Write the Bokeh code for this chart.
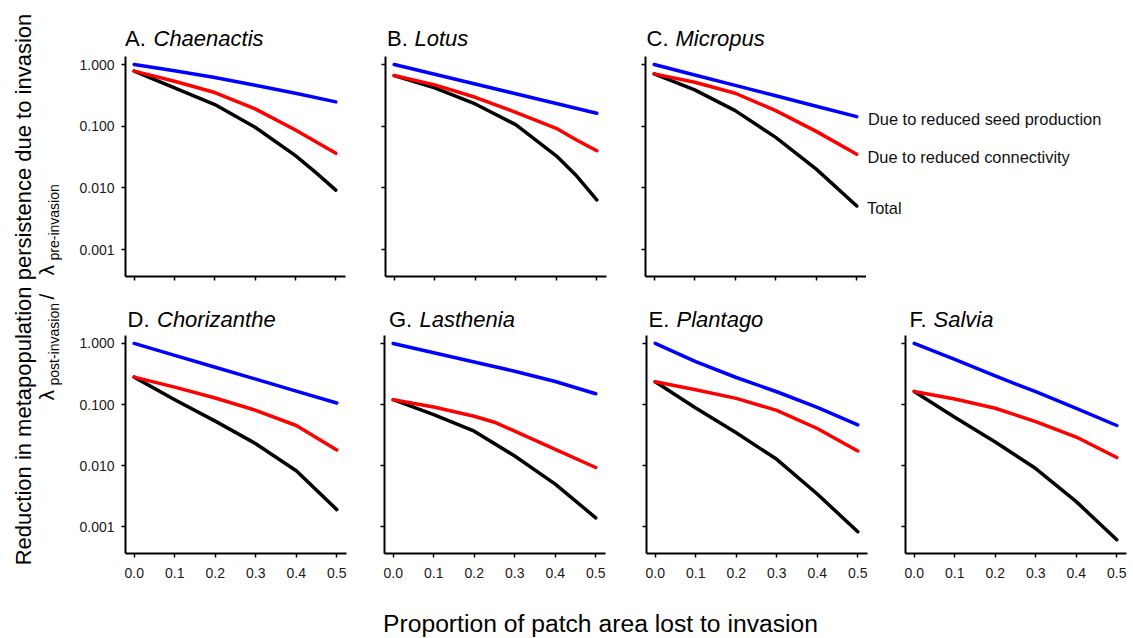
import math
from bokeh.plotting import figure
from bokeh.layouts import row, column
from bokeh.models import Range1d, FixedTicker, PrintfTickFormatter
from bokeh.embed import file_html
from bokeh.resources import INLINE
from bokeh.core.properties import value

FONT = "Liberation Sans"

# ---------------- data ----------------
x_steps = [0.0, 0.1, 0.2, 0.3, 0.4, 0.5]

# A. Chaenactis
a_seed = [1.000, 0.789, 0.615, 0.461, 0.342, 0.248]
a_conn = [0.780, 0.536, 0.351, 0.191, 0.0869, 0.0363]
a_total_x = [0.0, 0.1, 0.2, 0.3, 0.4, 0.45, 0.5]
a_total = [0.780, 0.418, 0.224, 0.0959, 0.0333, 0.0178, 0.0092]

# B. Lotus
b_seed = [1.000, 0.695, 0.483, 0.335, 0.233, 0.162]
b_conn_x = [0.0, 0.1, 0.2, 0.3, 0.4, 0.45, 0.5]
b_conn = [0.662, 0.467, 0.294, 0.168, 0.0923, 0.0596, 0.0400]
b_total_x = [0.0, 0.1, 0.2, 0.3, 0.4, 0.45, 0.5]
b_total = [0.662, 0.418, 0.229, 0.106, 0.0331, 0.0157, 0.00638]

# C. Micropus
c_seed = [1.000, 0.677, 0.459, 0.311, 0.210, 0.143]
c_conn = [0.705, 0.516, 0.342, 0.179, 0.0824, 0.0352]
c_total = [0.705, 0.387, 0.179, 0.0658, 0.0201, 0.00509]

# D. Chorizanthe
d_seed = [1.000, 0.638, 0.407, 0.260, 0.166, 0.106]
d_conn = [0.281, 0.193, 0.128, 0.0805, 0.0454, 0.0181]
d_total = [0.281, 0.120, 0.0535, 0.0229, 0.00824, 0.00191]

# G. Lasthenia
g_seed = [1.000, 0.705, 0.498, 0.351, 0.238, 0.150]
g_conn_x = [0.0, 0.1, 0.2, 0.25, 0.3, 0.4, 0.5]
g_conn = [0.120, 0.0914, 0.0644, 0.0514, 0.0367, 0.0185, 0.00933]
g_total = [0.120, 0.0686, 0.0367, 0.0144, 0.00500, 0.00140]

# E. Plantago
e_seed = [1.000, 0.504, 0.277, 0.162, 0.0902, 0.0466]
e_conn = [0.236, 0.175, 0.126, 0.0805, 0.0406, 0.0174]
e_total = [0.236, 0.0879, 0.0345, 0.0127, 0.00344, 0.00083]

# F. Salvia
f_seed = [1.000, 0.550, 0.294, 0.162, 0.0869, 0.0454]
f_conn = [0.164, 0.123, 0.0869, 0.0527, 0.0294, 0.0136]
f_total = [0.164, 0.0621, 0.0244, 0.00897, 0.00258, 0.000615]

y_ticks = [0.001, 0.01, 0.1, 1.0]
x_ticks = [0.0, 0.1, 0.2, 0.3, 0.4, 0.5]
legend_labels = ["Due to reduced seed production", "Due to reduced connectivity", "Total"]
top_letters = ["A.", "B.", "C."]
top_names = ["Chaenactis", "Lotus", "Micropus"]
bottom_letters = ["D.", "G.", "E.", "F."]
bottom_names = ["Chorizanthe", "Lasthenia", "Plantago", "Salvia"]
y_title = "Reduction in metapopulation persistence due to invasion"
x_title = "Proportion of patch area lost to invasion"

# ---------------- layout constants (page pixels) ----------------
X0, X1 = -0.0215, 0.524
Y0, Y1 = 10 ** -3.437, 10 ** 0.1297
FRAME_W, FRAME_H = 221, 220
LEFT_W = 76
TOTAL_W = 1133
H = 638

top_specs = [
    dict(seed=(x_steps, a_seed), conn=(x_steps, a_conn), total=(a_total_x, a_total), L=48, R=20, ylab=True),
    dict(seed=(x_steps, b_seed), conn=(b_conn_x, b_conn), total=(b_total_x, b_total), L=20, R=19, ylab=False),
    dict(seed=(x_steps, c_seed), conn=(x_steps, c_conn), total=(x_steps, c_total), L=20, R=0, ylab=False),
]
bottom_specs = [
    dict(seed=(x_steps, d_seed), conn=(x_steps, d_conn), total=(x_steps, d_total), L=49, R=18, ylab=True),
    dict(seed=(x_steps, g_seed), conn=(g_conn_x, g_conn), total=(x_steps, g_total), L=20, R=21, ylab=False),
    dict(seed=(x_steps, e_seed), conn=(x_steps, e_conn), total=(x_steps, e_total), L=20, R=18, ylab=False),
    dict(seed=(x_steps, f_seed), conn=(x_steps, f_conn), total=(x_steps, f_total), L=20, R=7, ylab=False, shift=2),
]


def make_panel(spec, top, bottom, xlab):
    shift = spec.get("shift", 0)
    p = figure(width=spec["L"] + FRAME_W + spec["R"], height=top + FRAME_H + bottom,
               x_range=Range1d(X0, X1), y_range=Range1d(Y0, Y1), y_axis_type="log",
               output_backend="svg", toolbar_location=None,
               min_border_left=spec["L"], min_border_right=spec["R"],
               min_border_top=top - shift, min_border_bottom=bottom + shift)
    p.grid.visible = False
    p.outline_line_color = None
    p.background_fill_color = "white"
    p.border_fill_color = "white"

    for ax in (p.xaxis[0], p.yaxis[0]):
        ax.axis_line_width = 2
        ax.axis_line_color = "black"
        ax.major_tick_line_width = 1.5
        ax.major_tick_line_color = "black"
        ax.major_tick_in = 0
        ax.major_tick_out = 4
        ax.minor_tick_line_color = None
        ax.major_label_text_font = FONT
        ax.major_label_text_color = "#1a1a1a"
        ax.major_label_text_font_size = "14px"
    p.xaxis.ticker = FixedTicker(ticks=x_ticks)
    p.xaxis.formatter = PrintfTickFormatter(format="%.1f")
    p.xaxis.major_label_standoff = 10
    if not xlab:
        p.xaxis.major_label_text_color = None
        p.xaxis.major_label_text_font_size = "1px"
        p.xaxis.major_label_standoff = 0
    p.yaxis.ticker = FixedTicker(ticks=y_ticks)
    p.yaxis.formatter = PrintfTickFormatter(format="%.3f")
    p.yaxis.major_label_standoff = 7
    if not spec["ylab"]:
        p.yaxis.major_label_text_color = None
        p.yaxis.major_label_text_font_size = "1px"
        p.yaxis.major_label_standoff = 0

    sx, sy = spec["seed"]
    cx, cy = spec["conn"]
    tx, ty = spec["total"]
    kw = dict(line_width=3.5, line_join="round", line_cap="round")
    p.line(tx, ty, line_color="black", **kw)
    p.line(cx, cy, line_color="#ff0000", **kw)
    p.line(sx, sy, line_color="#0000ff", **kw)
    return p


def blank(width, height, xr, yr):
    f = figure(width=width, height=height, x_range=Range1d(*xr), y_range=Range1d(*yr),
               x_axis_location=None, y_axis_location=None,
               output_backend="svg", toolbar_location=None,
               min_border_left=0, min_border_right=0, min_border_top=0, min_border_bottom=0)
    f.grid.visible = False
    f.outline_line_color = None
    f.background_fill_color = "white"
    f.border_fill_color = "white"
    return f


def text_kw(size, style="normal", align="left", color="black"):
    return dict(text_font=value(FONT), text_font_size=value(size), text_font_style=style,
                text_align=align, text_baseline="middle", text_color=color)


# ---- title strips (data x = page x; data y = strip bottom - page y) ----
top_strip_h = 52
top_strip = blank(TOTAL_W - LEFT_W, top_strip_h, (LEFT_W, TOTAL_W), (0, top_strip_h))
top_strip.text(x=[124.5, 386.5, 646], y=[top_strip_h - 37.5] * 3, text=top_letters, **text_kw("22px"))
top_strip.text(x=[153, 414, 675], y=[top_strip_h - 37.5] * 3, text=top_names, **text_kw("22px", "italic"))

bot_strip_top, bot_strip_h = 300, 32
bot_strip = blank(TOTAL_W - LEFT_W, bot_strip_h, (LEFT_W, TOTAL_W), (0, bot_strip_h))
bl = [bot_strip_top + bot_strip_h - 318.5] * 4
bot_strip.text(x=[127, 388.5, 648, 909], y=bl, text=bottom_letters, **text_kw("22px"))
bot_strip.text(x=[156.5, 419, 676, 933], y=bl, text=bottom_names, **text_kw("22px", "italic"))

# ---- panels (frame tops at page y 56 and 335) ----
top_figs = [make_panel(s, 56 - top_strip_h, 24, False) for s in top_specs]
bottom_figs = [make_panel(s, 335 - bot_strip_top - bot_strip_h, 45, True) for s in bottom_specs]

# ---- legend beside panel C, sharing its log y scale ----
leg_w = TOTAL_W - (LEFT_W + sum(f.width for f in top_figs))
leg_top = 56 - top_strip_h
leg = figure(width=leg_w, height=leg_top + FRAME_H + 24, x_range=Range1d(0, leg_w), y_range=Range1d(Y0, Y1),
             y_axis_type="log", x_axis_location=None, y_axis_location=None,
             output_backend="svg", toolbar_location=None,
             min_border_left=0, min_border_right=0, min_border_top=leg_top, min_border_bottom=24)
leg.grid.visible = False
leg.outline_line_color = None
leg.border_fill_color = "white"
ends = [c_seed[-1], c_conn[-1], c_total[-1]]
leg.text(x=[1.5, 1.0, 0.5], y=ends, text=legend_labels, y_offset=2.5,
         **text_kw("16.4px", color="#111111"))

# ---- left label column (data x = page x; data y = page height - page y) ----
ylab_fig = blank(LEFT_W, H, (0, LEFT_W), (0, H))
ylab_fig.text(x=[22.5], y=[H - 289], text=[y_title], angle=math.pi / 2,
              **text_kw("22px", align="center"))
ylab_fig.text(x=[46] * 3, y=[H - v for v in (400, 299, 275)], text=["\u03bb", "/", "\u03bb"],
              angle=math.pi / 2, **text_kw("21px"))
ylab_fig.text(x=[53] * 2, y=[H - v for v in (385, 260)], text=["post-invasion", "pre-invasion"],
              angle=math.pi / 2, **text_kw("14px"))

# ---- x title ----
xlab_h = H - 600
xlab_fig = blank(TOTAL_W - LEFT_W, xlab_h, (LEFT_W, TOTAL_W), (0, xlab_h))
xlab_fig.text(x=[600], y=[H - 622.5], text=[x_title], **text_kw("24.7px", align="center"))

right_col = column(top_strip,
                   row(*top_figs, leg, spacing=0),
                   bot_strip,
                   row(*bottom_figs, spacing=0),
                   xlab_fig, spacing=0)
layout = row(ylab_fig, right_col, spacing=0)

open("out.html", "w").write(file_html(layout, INLINE))
